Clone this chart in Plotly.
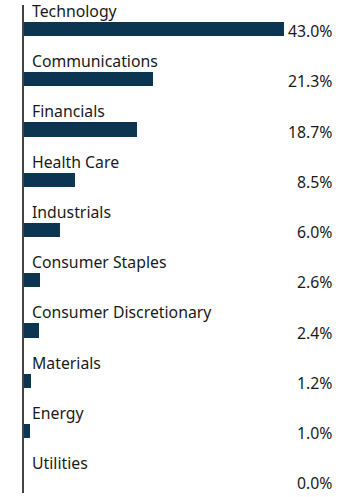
import plotly.graph_objects as go

categories = ["Technology", "Communications", "Financials", "Health Care", "Industrials",
              "Consumer Staples", "Consumer Discretionary", "Materials", "Energy", "Utilities"]
values = [43.0, 21.3, 18.7, 8.5, 6.0, 2.6, 2.4, 1.2, 1.0, 0.0]
value_labels = ["43.0%", "21.3%", "18.7%", "8.5%", "6.0%", "2.6%", "2.4%", "1.2%", "1.0%", "0.0%"]

W, H = 360, 497
ML, MR, MT, MB = 24, 0, 5, 4
pos = list(range(len(categories)))

FONT = "Noto Sans"
BAR = "#0b3550"
TXT = "#1a1a1a"
FS = 15.8

fig = go.Figure(go.Bar(
    x=values, y=pos, orientation="h", width=0.28,
    marker=dict(color=BAR, line=dict(width=0)),
    hoverinfo="skip",
))

annotations = []
for i, (c, lab) in enumerate(zip(categories, value_labels)):
    annotations.append(dict(x=0, y=i - 0.36, xref="x", yref="y", text=c, showarrow=False,
                            xanchor="left", yanchor="middle", xshift=6,
                            font=dict(family=FONT, size=FS, color=TXT)))
    annotations.append(dict(x=(334 - ML) / (W - ML - MR), y=i + 0.04, xref="paper", yref="y",
                            text=lab, showarrow=False, xanchor="right", yanchor="middle",
                            font=dict(family=FONT, size=FS, color=TXT)))

fig.update_layout(
    width=W, height=H,
    margin=dict(l=ML, r=MR, t=MT, b=MB, autoexpand=False),
    paper_bgcolor="white", plot_bgcolor="white",
    showlegend=False,
    xaxis=dict(range=[0, (W - ML - MR) / 6.047], showgrid=False, zeroline=False,
               showticklabels=False, showline=False, fixedrange=True),
    yaxis=dict(range=[9.234, -0.478], showgrid=False, zeroline=False, showticklabels=False,
               showline=True, linecolor="#444444", linewidth=1.5, mirror=False, fixedrange=True),
    annotations=annotations,
    bargap=0,
)

fig.write_html("out.html", config={"displayModeBar": False},
               post_script="document.body.style.margin='0';document.body.style.overflow='hidden';")
